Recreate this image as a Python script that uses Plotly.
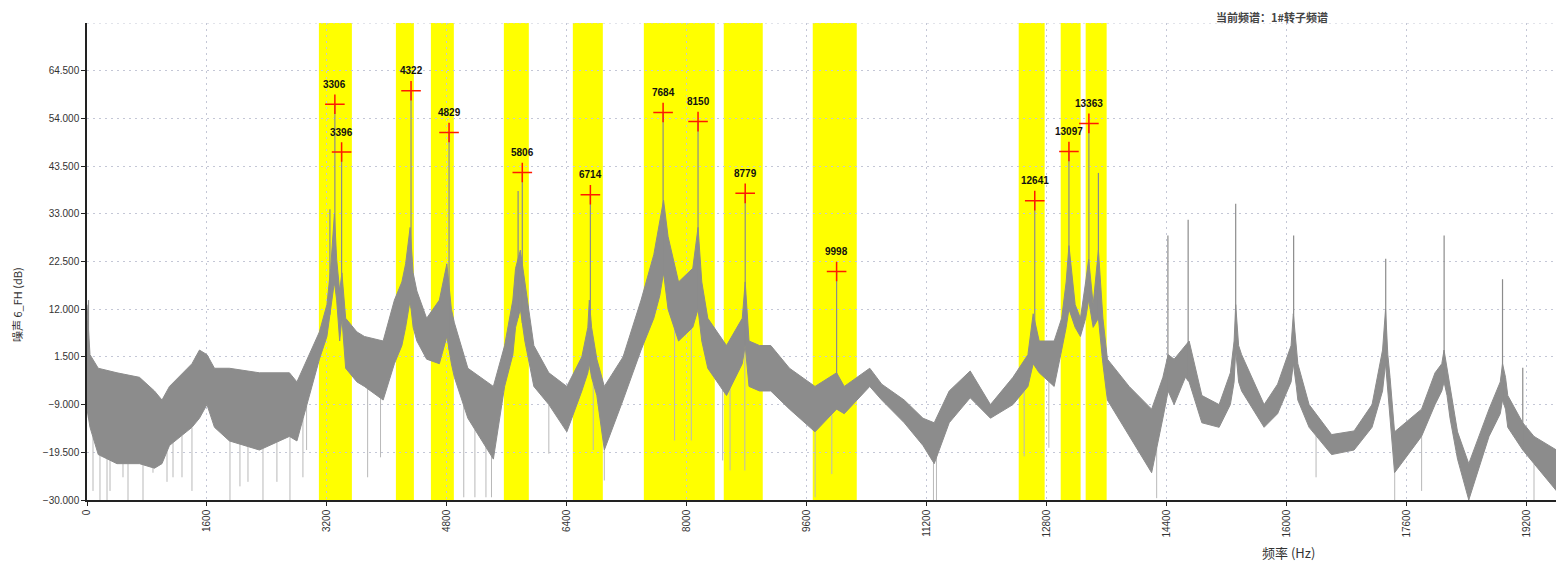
import numpy as np
import plotly.graph_objects as go

# ---- spectrum envelope (Hz, dB) ----
freq = [0, 40, 150, 400, 700, 900, 1000, 1100, 1400, 1500, 1600, 1700, 1900, 2300, 2700, 2800,
        2950, 3100, 3200, 3250, 3300, 3330, 3370, 3400, 3450, 3600, 3700, 3950, 4100, 4200, 4250,
        4310, 4350, 4400, 4530, 4700, 4800, 4860, 4900, 5080, 5420, 5570, 5680, 5716, 5780, 5840,
        5960, 6160, 6400, 6600, 6680, 6700, 6730, 6800, 6900, 7150, 7390, 7560, 7640, 7690, 7750,
        7890, 8080, 8150, 8200, 8280, 8530, 8740, 8779, 8830, 8970, 9120, 9370, 9710, 9998, 10100,
        10440, 10600, 10900, 11150, 11300, 11500, 11780, 12050, 12350, 12550, 12620, 12700, 12900,
        13000, 13060, 13097, 13180, 13250, 13320, 13360, 13420, 13490, 13550, 13610, 13900, 14200,
        14350, 14420, 14500, 14650, 14700, 14870, 15100, 15250, 15300, 15321, 15360, 15400, 15700,
        15880, 16060, 16090, 16130, 16150, 16300, 16600, 16900, 17140, 17280, 17320, 17350, 17380,
        17440, 17800, 17980, 18070, 18100, 18140, 18180, 18280, 18430, 18700, 18850, 18880, 18920,
        18950, 19150, 19300, 19700]
upper = [13, 2, -1, -2, -3, -6, -8, -5, 0, 3, 2, -1, -1, -2, -2, -4,
         1.5, 7, 13, 21, 33, 23, 16, 20, 10, 7, 6, 5, 14, 18, 22,
         30, 20, 16, 10, 14, 22, 12, 9, -1, -5, 4, 14, 21, 25, 18,
         4, -2, -5, 1.5, 8, 14, 8, 1, -5, 1.5, 14, 24, 32, 36, 28,
         18, 21, 30, 18, 10, 4, 10, 18, 5, 4, 4, -1, -5, -2, -5,
         -1, -4.5, -8, -12, -13, -6, -1.6, -9, -3, 2, 11, 5, 5,
         10, 18, 26, 13, 10, 18, 23, 13, 25, 10, 1, -5, -10,
         -3, 2, 1, 4, 5, -7, -9, -2, 5, 13, 4, 2, -9,
         -4.5, 4, 11, 3, 0, -9, -15.6, -14.8, -9, 3, 12, 2, -3,
         -15, -10, -2, 0, 3, -1, -6, -15, -22, -10, -4, 0, -3,
         -7, -13, -16, -20]
lower = [-10, -14, -20, -22, -22, -23, -22, -18, -14, -12, -9, -14, -17, -19, -16, -17,
         -8, 1, 6, 12, 18, 14, 5, 10, -1, -4, -5, -8, 0, 4, 8,
         14, 8, 5, 1, 0, 6, 0, -3, -12, -21, -5, 2, 8, 12, 5,
         -5, -9, -15, -6, -2, 0, -3, -7, -19, -8, 3, 10, 15, 20, 12,
         5, 8, 12, 5, -1, -7, 0, 4, -5, -6, -6, -10, -15, -10, -11,
         -5, -8, -13, -18, -22, -13, -7.5, -12, -9, -5, 0, -2, -5,
         3, 8, 12, 8, 6, 10, 14, 8, 10, 0, -8, -16, -24,
         -12, -6, -9, -3, -4, -13, -14, -9, -4, 3, -4, -6, -14,
         -11, -4, 0, -5, -8, -14, -20, -19, -14, -6, 0, -6, -12,
         -24, -16, -9, -6, -4, -7, -12, -21, -30, -16, -11, -8, -10,
         -14, -19, -22, -30]

# ---- thin upward spikes (Hz, top dB) ----
spike_freq = [20, 3240, 5750, 13490, 14417, 14687, 15321, 16094, 17322, 18101, 18880, 19150]
spike_top = [14, 34, 38, 42, 28.2, 31.7, 35.2, 28.2, 23.1, 28.2, 18.6, -0.9]

# ---- thin downward dips (Hz, bottom dB) ----
dip_freq = [80, 173, 267, 307, 480, 547, 747, 880, 1067, 1147, 1267, 1400, 1907, 2040, 2147,
            2347, 2533, 2707, 2880, 2929, 3743, 3915, 5025, 5174, 5321, 5395, 6160, 6752, 6900,
            7837, 8060, 8478, 8577, 8774, 9712, 9934, 11290, 11330, 12500, 12829, 14267, 16393,
            17442, 17801, 18430, 19300, 19600]
dip_bottom = [-28, -30, -30, -28, -25, -30, -30, -24, -26, -25, -25, -28, -30, -27, -26,
              -30, -26, -30, -25, -19, -25, -20.6, -29.4, -29.4, -29.4, -29.4, -19.8, -19, -25.7,
              -16.9, -16.9, -21.3, -23.5, -23.5, -29.4, -24.3, -30, -30, -20.4, -18.5, -29.6, -25,
              -30, -28, -30, -30, -30]

# ---- marked peaks ----
peak_freq = [3306, 3396, 4322, 4829, 5806, 6714, 7684, 8150, 8779, 9998, 12641, 13097, 13363]
peak_db = [57.1, 46.6, 60.1, 50.9, 42.1, 37.2, 55.3, 53.3, 37.5, 20.3, 35.9, 46.7, 52.9]
peak_labels = [str(v) for v in peak_freq]

# ---- highlighted bands (Hz) ----
band_start = [3093, 4120, 4587, 5560, 6480, 7427, 8493, 9680, 12427, 12987, 13320]
band_end = [3533, 4360, 4893, 5893, 6880, 8373, 9013, 10267, 12773, 13253, 13600]

y_ticks = [-30, -19.5, -9, 1.5, 12, 22.5, 33, 43.5, 54, 64.5]
x_ticks = [0, 1600, 3200, 4800, 6400, 8000, 9600, 11200, 12800, 14400, 16000, 17600, 19200]

GRAY = "#8c8c8c"
GRID = "#c4c7d6"
fig = go.Figure()

# down dips (light gray)
dx, dy = [], []
for f, b in zip(dip_freq, dip_bottom):
    dx += [f, f, None]
    dy += [float(np.interp(f, freq, lower)), b, None]
fig.add_trace(go.Scatter(x=dx, y=dy, mode="lines", line=dict(color="#b9b9b9", width=1),
                         hoverinfo="skip", showlegend=False))

# band
fig.add_trace(go.Scatter(x=freq, y=lower, mode="lines", line=dict(color=GRAY, width=1),
                         hoverinfo="skip", showlegend=False))
fig.add_trace(go.Scatter(x=freq, y=upper, mode="lines", line=dict(color=GRAY, width=1),
                         fill="tonexty", fillcolor=GRAY, hoverinfo="skip", showlegend=False))

# upward spikes incl. peaks
sx, sy = [], []
for f, t in list(zip(spike_freq, spike_top)) + list(zip(peak_freq, peak_db)):
    sx += [f, f, None]
    sy += [float(np.interp(f, freq, lower)), t, None]
fig.add_trace(go.Scatter(x=sx, y=sy, mode="lines", line=dict(color=GRAY, width=1.2),
                         hoverinfo="skip", showlegend=False))

# peak markers
fig.add_trace(go.Scatter(x=peak_freq, y=peak_db, mode="markers",
                         marker=dict(symbol="cross-thin", size=14,
                                     line=dict(color="#ff1a00", width=1.5)),
                         hoverinfo="skip", showlegend=False))

for f, v, lab in zip(peak_freq, peak_db, peak_labels):
    fig.add_annotation(x=f, y=v, text="<b>" + lab + "</b>", showarrow=False, yshift=20,
                       font=dict(family="Arial", size=10, color="#111"))

shapes = []
for a, b in zip(band_start, band_end):
    shapes.append(dict(type="rect", xref="x", yref="paper", x0=a, x1=b, y0=0, y1=1,
                       fillcolor="#ffff00", line=dict(width=0), layer="below"))
shapes.append(dict(type="line", xref="paper", yref="y", x0=0, x1=1, y0=75, y1=75,
                   line=dict(color=GRID, width=1, dash="2px,4px"), layer="below"))

# page body has an 8px margin, so the figure is 8px smaller and margins shifted
fig.update_layout(
    width=1556, height=564,
    margin=dict(l=79, r=0, t=15, b=72),
    paper_bgcolor="white", plot_bgcolor="white",
    shapes=shapes,
    font=dict(family="Arial", size=10, color="#333"),
)
fig.update_xaxes(range=[0, 19700], tickvals=x_ticks, ticktext=[str(v) for v in x_ticks],
                 tickangle=-90, ticks="outside", ticklen=4, tickcolor="#222",
                 showline=True, linecolor="#222", linewidth=1.5,
                 showgrid=True, gridcolor=GRID, griddash="2px,4px", gridwidth=1,
                 zeroline=False, tickfont=dict(family="Arial", size=10, color="#333"))
fig.update_yaxes(range=[-30, 75], tickvals=y_ticks, tickformat=".3f",
                 ticks="outside", ticklen=4, tickcolor="#222",
                 showline=True, linecolor="#222", linewidth=1.5,
                 showgrid=True, gridcolor=GRID, griddash="2px,4px", gridwidth=1,
                 zeroline=False, tickfont=dict(family="Arial", size=10, color="#333"))

fig.add_annotation(xref="paper", yref="paper", x=(1288 - 87) / 1477, y=-(552 - 500) / 477,
                   xanchor="center", yanchor="middle",
                   text="频率 (Hz)", showarrow=False,
                   font=dict(family="Noto Sans CJK SC", size=13, color="#333"))
fig.add_annotation(xref="paper", yref="paper", x=-(87 - 17) / 1477, y=(500 - 305) / 477,
                   xanchor="center", yanchor="middle",
                   text="噪声 6_FH (dB)", textangle=-90, showarrow=False,
                   font=dict(family="Noto Sans CJK SC", size=11, color="#333"))
fig.add_annotation(xref="paper", yref="paper", x=(1272 - 87) / 1477, y=1 + (23 - 17) / 477,
                   xanchor="center", yanchor="middle",
                   text="<b>当前频谱：1#转子频谱</b>", showarrow=False,
                   font=dict(family="Noto Sans CJK SC", size=11, color="#444"))

fig.write_html("out.html")
